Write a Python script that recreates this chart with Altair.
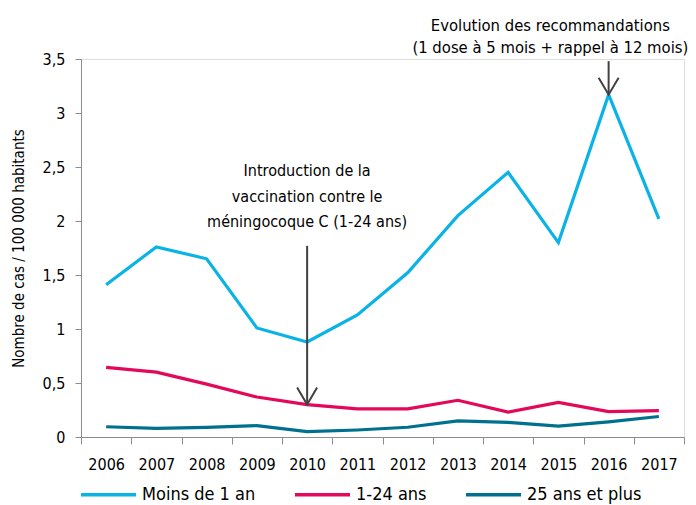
import altair as alt
import pandas as pd

years = [str(y) for y in range(2006, 2018)]
moins_1_an = [1.41, 1.76, 1.65, 1.01, 0.88, 1.13, 1.52, 2.05, 2.45, 1.80, 3.17, 2.02]
ans_1_24 = [0.645, 0.60, 0.49, 0.37, 0.30, 0.26, 0.26, 0.34, 0.23, 0.32, 0.235, 0.245]
ans_25_plus = [0.095, 0.08, 0.09, 0.105, 0.05, 0.065, 0.09, 0.15, 0.135, 0.10, 0.14, 0.19]
series = ["Moins de 1 an", "1-24 ans", "25 ans et plus"]
colors = ["#0AB3E6", "#E4085B", "#00708F"]
y_ticks = [0, 0.5, 1, 1.5, 2, 2.5, 3, 3.5]

# annotations
arrow_years = ["2010", "2016"]
arrow_tip = [0.30, 3.17]
arrow_top = [1.77, 3.48]
note1_years = ["2010", "2010", "2010"]
note1_y = [2.46, 2.22, 1.99]
note1_text = ["Introduction de la", "vaccination contre le", "méningocoque C (1-24 ans)"]
note2_years = ["2015", "2015"]
note2_y = [3.81, 3.60]
note2_text = ["Evolution des recommandations", "(1 dose à 5 mois + rappel à 12 mois)"]

FONT = "DejaVu Sans Condensed, Liberation Sans, sans-serif"

rows = []
for name, vals in zip(series, [moins_1_an, ans_1_24, ans_25_plus]):
    for yr, v in zip(years, vals):
        rows.append({"year": yr, "value": v, "series": name})
df = pd.DataFrame(rows)
arrows = pd.DataFrame({"year": arrow_years, "tip": arrow_tip, "top": arrow_top})
notes1 = pd.DataFrame({"year": note1_years, "y": note1_y, "text": note1_text})
notes2 = pd.DataFrame({"year": note2_years, "y": note2_y, "text": note2_text})

xscale = alt.Scale(type="band", domain=years, paddingInner=0, paddingOuter=0)
yscale = alt.Scale(domain=[0, 3.5], nice=False)

xenc = alt.X("year:N", scale=xscale, bandPosition=0.5,
             axis=alt.Axis(title=None, tickBand="extent", domainColor="#8c8c8c",
                           tickColor="#8c8c8c", tickSize=7, labelFont=FONT,
                           labelFontSize=16, labelColor="#000", labelPadding=12,
                           labelAngle=0, grid=False))

lines = alt.Chart(df).mark_line(strokeWidth=3.2).encode(
    x=xenc,
    y=alt.Y("value:Q", scale=yscale,
            axis=alt.Axis(values=y_ticks,
                          labelExpr="replace(format(datum.value, '~g'), '.', ',')",
                          title="Nombre de cas / 100  000 habitants",
                          titleFont=FONT, titleFontSize=15, titleFontWeight="normal",
                          titleColor="#000", titlePadding=16,
                          labelFont=FONT, labelFontSize=16, labelColor="#000",
                          labelPadding=10, tickSize=6, tickColor="#8c8c8c",
                          domainColor="#8c8c8c", grid=False)),
    color=alt.Color("series:N", scale=alt.Scale(domain=series, range=colors),
                    legend=alt.Legend(orient="none", legendX=-2, legendY=406,
                                      direction="horizontal", title=None,
                                      symbolType="stroke", symbolSize=3025,
                                      symbolStrokeWidth=3.5, labelFont=FONT,
                                      labelFontSize=18, labelColor="#000",
                                      labelOffset=4, columnPadding=32, padding=0)),
)

shaft = alt.Chart(arrows).mark_rule(color="#404040", strokeWidth=2).encode(
    x=alt.X("year:N", scale=xscale, bandPosition=0.5),
    y=alt.Y("tip:Q", scale=yscale),
    y2="top:Q",
)
head = alt.Chart(arrows).mark_point(
    shape="M-1,-1.7L0,0L1,-1.7", filled=False, size=400, strokeWidth=2,
    color="#404040", opacity=1
).encode(
    x=alt.X("year:N", scale=xscale, bandPosition=0.5),
    y=alt.Y("tip:Q", scale=yscale),
)
text1 = alt.Chart(notes1).mark_text(font=FONT, fontSize=16, color="#000",
                                    align="center", baseline="middle").encode(
    x=alt.X("year:N", scale=xscale, bandPosition=0.5),
    y=alt.Y("y:Q", scale=yscale),
    text="text:N",
)
text2 = alt.Chart(notes2).mark_text(font=FONT, fontSize=16.5, color="#000",
                                    align="center", baseline="middle", dx=-8).encode(
    x=alt.X("year:N", scale=xscale, bandPosition=0.5),
    y=alt.Y("y:Q", scale=yscale),
    text="text:N",
)

chart = alt.layer(lines, shaft, head, text1, text2).properties(
    width=603, height=378,
    autosize=alt.AutoSizeParams(type="none"),
    padding={"left": 73, "top": 51, "right": 4, "bottom": 68},
).configure_view(stroke=None).configure(background="white")

chart.save("out.html", embed_options={"renderer": "svg", "actions": False})
